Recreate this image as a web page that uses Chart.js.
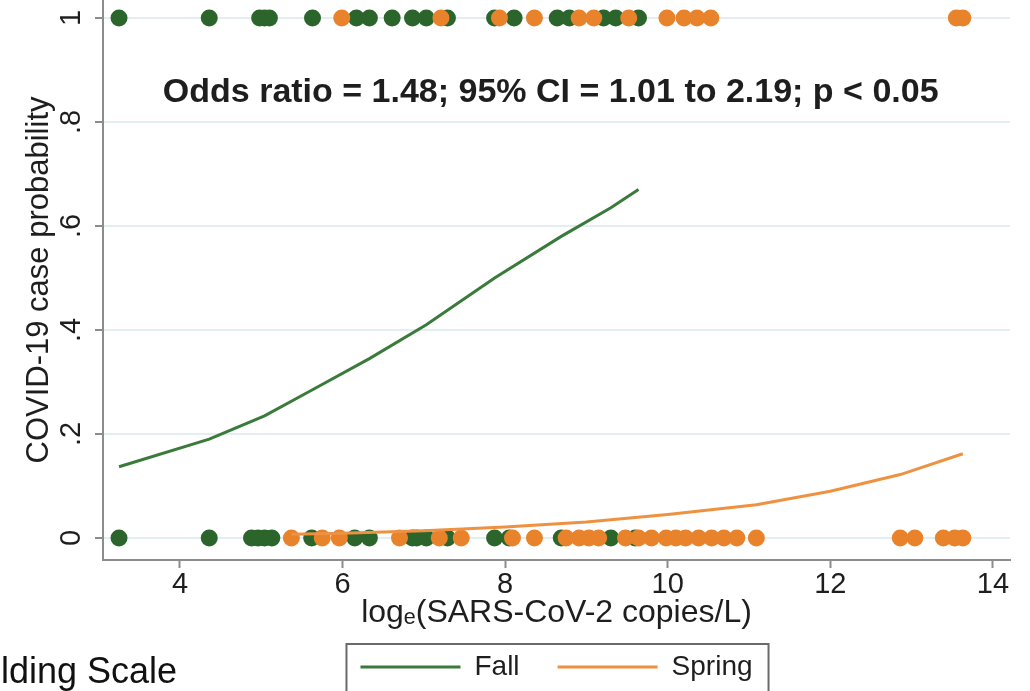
<!DOCTYPE html>
<html>
<head>
<meta charset="utf-8">
<script src="https://cdn.jsdelivr.net/npm/chart.js@4.4.1/dist/chart.umd.min.js"></script>
<style>
  html, body { margin: 0; padding: 0; background: #fff; }
  #wrap { position: relative; width: 1030px; height: 691px; overflow: hidden; }
  #cut { position: absolute; left: 1px; white-space: nowrap; color: #111; line-height: 1; }
</style>
</head>
<body>
<div id="wrap">
  <canvas id="oddsChart" width="1030" height="691"></canvas>
  <div id="cut">lding Scale</div>
</div>
<script>
// values
const xTicks = [4, 6, 8, 10, 12, 14];
const yTicks = [0, 0.2, 0.4, 0.6, 0.8, 1];
const yTickLabels = ['0', '.2', '.4', '.6', '.8', '1'];

// observed samples, cases sit at y = 1, non-cases at y = 0
const fallCasesX = [3.25, 4.36, 4.98, 5.04, 5.10, 5.63, 6.17, 6.33, 6.61, 6.86, 7.03, 7.29, 7.87, 8.11, 8.64, 8.79, 9.21, 9.36, 9.64];
const fallControlsX = [3.25, 4.36, 4.88, 4.96, 5.04, 5.13, 5.62, 6.15, 6.33, 6.86, 6.91, 7.03, 7.29, 7.87, 8.05, 8.69, 9.30, 9.60];
const springCasesX = [5.99, 7.21, 7.93, 8.36, 8.91, 9.09, 9.52, 9.99, 10.20, 10.36, 10.53, 13.55, 13.63];
const springControlsX = [5.37, 5.75, 5.96, 6.70, 7.19, 7.46, 8.09, 8.36, 8.75, 8.91, 9.03, 9.15, 9.48, 9.64, 9.80, 9.98, 10.10, 10.22, 10.38, 10.54, 10.69, 10.85, 11.09, 12.86, 13.04, 13.39, 13.53, 13.63];

// fitted probability curves
const fallFitX = [3.25, 4.36, 5.04, 5.63, 6.33, 7.03, 7.87, 8.69, 9.30, 9.64];
const fallFitY = [0.137, 0.19, 0.235, 0.285, 0.345, 0.41, 0.50, 0.58, 0.635, 0.67];
const springFitX = [5.37, 6.0, 7.0, 8.0, 9.0, 10.0, 11.09, 12.0, 12.86, 13.63];
const springFitY = [0.007, 0.009, 0.014, 0.021, 0.031, 0.045, 0.064, 0.09, 0.122, 0.162];

const seriesNames = ['Fall', 'Spring'];
const titleText = 'Odds ratio = 1.48; 95% CI = 1.01 to 2.19; p < 0.05';

function hasFont(name) {
    const c = document.createElement('canvas').getContext('2d');
    const probe = 'Spring Fall 0123456789';
    c.font = '40px monospace';
    const base = c.measureText(probe).width;
    c.font = `40px "${name}", monospace`;
    return c.measureText(probe).width !== base;
}

const NARROW = hasFont('Liberation Sans Narrow');
const FAM = NARROW ? '"Liberation Sans Narrow", "Liberation Sans", sans-serif' : '"Liberation Sans", Arial, sans-serif';
const sz = n => Math.round(NARROW ? n : n * 0.82);

const GREEN = '#2c652c';
const GREEN_LINE = '#3a7a3a';
const ORANGE = '#e8832c';
const ORANGE_LINE = '#ee9242';
const AXIS = '#8c8c8c';
const GRID = '#e3eef2';
const TEXT = '#1e1e1e';

const legendFont = sz(34);
const legendPad = 38;
const legendH = legendFont + legendPad + 10;
const xAxisH = 131 - legendH;
const xTitleSize = sz(39);
const yTitleSize = sz(38);
const tickFont = { family: FAM, size: sz(35) };

const toPts = (xs, y) => xs.map(x => ({ x, y }));
const toLine = (xs, ys) => xs.map((x, i) => ({ x, y: ys[i] }));

const oddsTitle = {
    id: 'oddsTitle',
    afterDatasetsDraw(chart) {
        const { ctx, scales: { x, y } } = chart;
        ctx.save();
        ctx.font = `bold ${sz(41)}px ${FAM}`;
        ctx.fillStyle = TEXT;
        ctx.textAlign = 'center';
        ctx.textBaseline = 'middle';
        ctx.fillText(titleText, x.getPixelForValue(8.56), y.getPixelForValue(0.857));
        ctx.restore();
    }
};

const legendFrame = {
    id: 'legendFrame',
    afterDraw(chart) {
        const hb = chart.legend && chart.legend.legendHitBoxes;
        if (!hb || !hb.length) return;
        const first = hb[0];
        const last = hb[hb.length - 1];
        const ctx = chart.ctx;
        ctx.save();
        ctx.strokeStyle = '#6a6a6a';
        ctx.lineWidth = 2;
        ctx.strokeRect(first.left - 14, first.top - 9, last.left + last.width - first.left + 30, 90);
        ctx.restore();
    }
};

const ctxOdds = document.getElementById('oddsChart');
new Chart(ctxOdds.getContext('2d'), {
    type: 'scatter',
    data: {
        datasets: [
            { label: seriesNames[0], data: toLine(fallFitX, fallFitY), showLine: true, borderColor: GREEN_LINE, backgroundColor: GREEN_LINE, borderWidth: 3, pointRadius: 0, tension: 0 },
            { label: seriesNames[1], data: toLine(springFitX, springFitY), showLine: true, borderColor: ORANGE_LINE, backgroundColor: ORANGE_LINE, borderWidth: 3, pointRadius: 0, tension: 0 },
            { label: 'spring cases', data: toPts(springCasesX, 1), backgroundColor: ORANGE, borderWidth: 0, pointRadius: 8.5 },
            { label: 'spring controls', data: toPts(springControlsX, 0), backgroundColor: ORANGE, borderWidth: 0, pointRadius: 8.5 },
            { label: 'fall cases', data: toPts(fallCasesX, 1), backgroundColor: GREEN, borderWidth: 0, pointRadius: 8.5 },
            { label: 'fall controls', data: toPts(fallControlsX, 0), backgroundColor: GREEN, borderWidth: 0, pointRadius: 8.5 }
        ]
    },
    options: {
        responsive: false,
        animation: false,
        layout: { autoPadding: false, padding: { top: 0, right: 20, bottom: 0, left: 0 } },
        scales: {
            x: {
                type: 'linear',
                min: 3.053,
                max: 14.21,
                afterBuildTicks: s => { s.ticks = xTicks.map(v => ({ value: v })); },
                afterFit: s => { s.height = xAxisH; s.paddingLeft = 0; s.paddingRight = 0; },
                grid: { drawOnChartArea: false, tickLength: 8, tickColor: AXIS, tickWidth: 2 },
                border: { color: AXIS, width: 2 },
                ticks: { color: TEXT, font: tickFont, padding: 0, maxRotation: 0 },
                title: {
                    display: true,
                    text: 'logₑ(SARS-CoV-2 copies/L)',
                    color: TEXT,
                    font: { family: FAM, size: xTitleSize, lineHeight: 1 },
                    padding: { top: 0, bottom: (691 - legendH) - xTitleSize / 2 - 613 }
                }
            },
            y: {
                min: -0.0423,
                max: 1.0346,
                afterBuildTicks: s => { s.ticks = yTicks.map(v => ({ value: v })); },
                afterFit: s => { s.width = 103; s.paddingTop = 0; s.paddingBottom = 0; },
                grid: { color: GRID, lineWidth: 2, tickLength: 8, tickColor: AXIS, tickWidth: 2 },
                border: { color: AXIS, width: 2 },
                ticks: {
                    minRotation: 90,
                    maxRotation: 90,
                    crossAlign: 'center',
                    padding: 11,
                    color: TEXT,
                    font: tickFont,
                    callback: (v, i) => yTickLabels[i]
                },
                title: {
                    display: true,
                    text: 'COVID-19 case probability',
                    color: TEXT,
                    font: { family: FAM, size: yTitleSize, lineHeight: 1 },
                    padding: { top: 39 - yTitleSize / 2, bottom: 0 }
                }
            }
        },
        plugins: {
            legend: {
                position: 'bottom',
                fullSize: false,
                labels: {
                    usePointStyle: true,
                    pointStyle: 'line',
                    pointStyleWidth: 100,
                    padding: legendPad,
                    color: TEXT,
                    font: { family: FAM, size: legendFont },
                    filter: item => item.datasetIndex < 2
                }
            },
            tooltip: { enabled: false }
        }
    },
    plugins: [oddsTitle, legendFrame]
});

// leftover slide caption at the bottom left
const cut = document.getElementById('cut');
const cutSize = sz(44);
cut.style.fontFamily = FAM;
cut.style.fontSize = cutSize + 'px';
cut.style.top = Math.round(683 - (cutSize * (1 - 1.117) / 2 + 0.905 * cutSize)) + 'px';
</script>
</body>
</html>
